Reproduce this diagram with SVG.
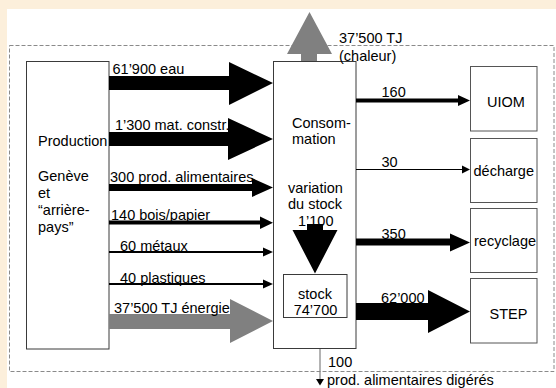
<svg xmlns="http://www.w3.org/2000/svg" width="556" height="388" viewBox="0 0 556 388">
<style>
text{font-family:"Liberation Sans",Arial,sans-serif;font-size:14.5px;fill:#000}
.box{fill:#fff;stroke:#3a3a3a;stroke-width:1}
.rbox{fill:#fff;stroke:#555;stroke-width:1}
.blk{fill:#000}
.gry{fill:#808080}
</style>
<rect x="0" y="0" width="556" height="388" fill="#fcefdb"/>
<rect x="7" y="9" width="549" height="379" fill="#fff"/>
<rect x="9.5" y="45.5" width="544.5" height="326" fill="none" stroke="#8a8a8a" stroke-width="1" stroke-dasharray="4,2"/>

<g id="production">
<rect class="box" x="26.5" y="61.5" width="82.5" height="287.5"/>
<text x="38" y="146">Production</text>
<text x="38" y="181">Genève</text>
<text x="38" y="197.5">et</text>
<text x="38" y="214.5">“arrière-</text>
<text x="38" y="231.5">pays”</text>
</g>

<g id="consommation">
<rect class="box" x="273.5" y="61.5" width="82.5" height="287"/>
<text x="292" y="127.5">Consom-</text>
<text x="292" y="143.5">mation</text>
<text x="288" y="192.5">variation</text>
<text x="288" y="209">du stock</text>
<text x="298" y="226">1’100</text>
</g>

<g id="stock">
<rect class="box" x="283.5" y="274.5" width="63.5" height="43"/>
<text x="315" y="298.5" text-anchor="middle">stock</text>
<text x="315.5" y="315" text-anchor="middle">74’700</text>
</g>

<g id="uiom">
<rect class="rbox" x="470.5" y="66.5" width="66.5" height="64.5"/>
<text x="487" y="106.5">UIOM</text>
</g>
<g id="decharge">
<rect class="rbox" x="470.5" y="138.5" width="66.5" height="64"/>
<text x="473.5" y="175.5">décharge</text>
</g>
<g id="recyclage">
<rect class="rbox" x="470.5" y="208.5" width="66.5" height="64"/>
<text x="474" y="246">recyclage</text>
</g>
<g id="step">
<rect class="rbox" x="470.5" y="278.5" width="66.5" height="64.5"/>
<text x="489.5" y="318.5">STEP</text>
</g>

<g id="connectors">
<polygon class="blk" points="109,76 229,76 229,62 273,83 229,105 229,90 109,90"/>
<polygon class="blk" points="109,132 228,132 228,118 273,139 228,160 228,146 109,146"/>
<polygon class="blk" points="109,184 252,184 252,178 273,187.5 252,197 252,191 109,191"/>
<polygon class="blk" points="109,220.5 260,220.5 260,216.5 273,222.7 260,229 260,224.5 109,224.5"/>
<line x1="109" y1="252" x2="264" y2="252" stroke="#000" stroke-width="2"/>
<polygon class="blk" points="263,247.5 273,252 263,256.5"/>
<line x1="109" y1="284" x2="264" y2="284" stroke="#000" stroke-width="2"/>
<polygon class="blk" points="263,279.5 273,284 263,288.5"/>
<polygon class="gry" points="109,314 230,314 230,299 273,321 230,343 230,329 109,329"/>
<polygon class="gry" points="301,61 301,54 287,54 309.5,12 332,54 317,54 317,61"/>

<polygon class="blk" points="356,98.5 458,98.5 458,95 470,100.5 458,106 458,102.5 356,102.5"/>
<line x1="356" y1="169.5" x2="463" y2="169.5" stroke="#000" stroke-width="1"/>
<polygon class="blk" points="462,165.5 470,169.5 462,173.5"/>
<polygon class="blk" points="356,238.5 450,238.5 450,233.5 470,242.5 450,251.5 450,245.5 356,245.5"/>
<polygon class="blk" points="356,303 428,303 428,290 470,311.5 428,333 428,320 356,320"/>

<polygon class="blk" points="307,224 323,224 323,230 337.5,230 315,273.5 292.5,230 307,230"/>

<line x1="320" y1="349" x2="320" y2="380" stroke="#808080" stroke-width="1.2"/>
<polygon class="blk" points="316,379 324,379 320,385.5"/>
</g>

<g id="labels">
<text x="112.5" y="74">61’900 eau</text>
<text x="115" y="130">1’300 mat. constr.</text>
<text x="110" y="181.5">300 prod. alimentaires</text>
<text x="111" y="220">140 bois/papier</text>
<text x="120" y="250.5">60 métaux</text>
<text x="120" y="283">40 plastiques</text>
<text x="114" y="313">37’500 TJ énergie</text>
<text x="339" y="43">37’500 TJ</text>
<text x="339" y="60.5">(chaleur)</text>
<text x="381.5" y="97">160</text>
<text x="381.5" y="166.5">30</text>
<text x="381.5" y="239">350</text>
<text x="381" y="302.5">62’000</text>
<text x="328" y="366.5">100</text>
<text x="327" y="384.5">prod. alimentaires digérés</text>
</g>
</svg>
